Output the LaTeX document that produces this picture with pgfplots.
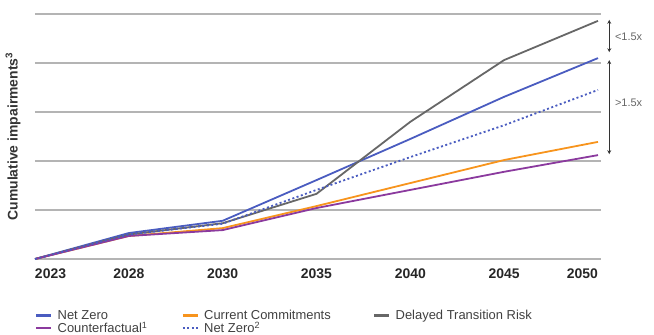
\documentclass[border=0pt]{standalone}
\usepackage{fontspec}
\setmainfont{Liberation Sans}
\usepackage{pgfplots}
\pgfplotsset{compat=1.18}
\usetikzlibrary{arrows.meta}
\definecolor{nzblue}{HTML}{4A5CC0}
\definecolor{ccorange}{HTML}{F7941D}
\definecolor{dtgrey}{HTML}{676767}
\definecolor{cfpurple}{HTML}{8B3A9E}
\definecolor{gridgray}{HTML}{B4B4B4}
\begin{document}
\begin{tikzpicture}
\useasboundingbox (-35bp,-76bp) rectangle (619bp,259bp);
\begin{axis}[
  at={(0,0)}, anchor=south west,
  scale only axis, width=565.8bp, height=245bp,
  xmin=0, xmax=6.03, ymin=0, ymax=5,
  xtick={0,...,6},
  xticklabels={\rlap{2023},2028,2030,2035,2040,2045,\llap{2050}},
  xticklabel style={font=\fontsize{14}{14}\selectfont\bfseries, text=black!85, anchor=north, yshift=-6bp},
  ytick={0,...,5}, yticklabels={},
  ymajorgrids, grid style={gridgray, line width=1.6bp},
  axis line style={draw=none}, major tick length=0pt,
  clip=false,
  ylabel={Cumulative impairments\textsuperscript{3}},
  ylabel style={at={(rel axis cs:0,0.5)}, anchor=center, yshift=22bp, font=\fontsize{14}{14}\selectfont\bfseries, text=black!80},
  legend columns=3,
  legend style={at={(rel axis cs:0,0)}, anchor=north west, yshift=-49bp, draw=none, fill=none, inner sep=0pt, font=\fontsize{13}{13}\selectfont, text=black!75, row sep=-3bp, column sep=0bp},
  legend cell align=left,
  legend image code/.code={\draw[#1, line width=2.5bp] (0bp,0bp) -- (15bp,0bp);},
  every axis plot/.append style={line width=1.8bp},
]
\addplot[nzblue] coordinates {(0,0) (1,0.53) (2,0.78) (3,1.61) (4,2.45) (5,3.31) (6,4.10)};
\addlegendentry{\makebox[125bp][l]{\hspace{3bp}Net Zero}}
\addplot[ccorange] coordinates {(0,0) (1,0.47) (2,0.63) (3,1.08) (4,1.55) (5,2.02) (6,2.39)};
\addlegendentry{\makebox[170bp][l]{\hspace{3bp}Current Commitments}}
\addplot[dtgrey] coordinates {(0,0) (1,0.50) (2,0.73) (3,1.33) (4,2.80) (5,4.06) (6,4.86)};
\addlegendentry{\hspace{3bp}Delayed Transition Risk}
\addplot[cfpurple] coordinates {(0,0) (1,0.47) (2,0.59) (3,1.04) (4,1.41) (5,1.78) (6,2.12)};
\addlegendentry{\hspace{3bp}Counterfactual\textsuperscript{1}}
\addplot[nzblue, dash pattern=on 2bp off 2.5bp] coordinates {(0,0) (1,0.50) (2,0.72) (3,1.41) (4,2.08) (5,2.73) (6,3.45)};
\addlegendentry{\hspace{3bp}Net Zero\textsuperscript{2}}
\draw[{Stealth[length=4bp,width=4bp]}-{Stealth[length=4bp,width=4bp]}, line width=1.2bp, black!80] (axis cs:6.12,4.88) -- (axis cs:6.12,4.22);
\draw[{Stealth[length=4bp,width=4bp]}-{Stealth[length=4bp,width=4bp]}, line width=1.2bp, black!80] (axis cs:6.12,4.06) -- (axis cs:6.12,2.14);
\node[anchor=west, font=\fontsize{11}{11}\selectfont, text=black!60, inner sep=0pt] at (axis cs:6.18,4.53) {<1.5x};
\node[anchor=west, font=\fontsize{11}{11}\selectfont, text=black!60, inner sep=0pt] at (axis cs:6.18,3.18) {>1.5x};
\end{axis}
\end{tikzpicture}
\end{document}
